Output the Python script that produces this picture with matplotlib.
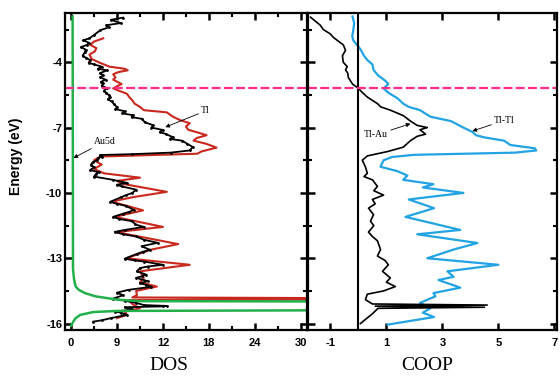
import matplotlib
matplotlib.use("Agg")
import matplotlib.pyplot as plt
from matplotlib.ticker import MultipleLocator, FixedLocator

plt.rcParams["axes.unicode_minus"] = False

############### DOS data (left panel) ################
# total DOS (black)
e_tot = [-1.95, -2.05, -2.2, -2.3, -2.4, -2.53, -2.75, -2.9, -2.99, -3.1, -3.2, -3.3, -3.42, -3.54,
         -3.7, -3.8, -3.91, -4.02, -4.1, -4.2, -4.3, -4.37, -4.5, -4.6, -4.69, -4.8, -4.9, -4.96,
         -5.08, -5.19, -5.3, -5.4, -5.5, -5.6, -5.7, -5.8, -5.92, -6.06, -6.15, -6.25, -6.35, -6.43,
         -6.52, -6.6, -6.75, -6.89, -7.0, -7.11, -7.2, -7.3, -7.44, -7.52, -7.6, -7.75, -7.89, -8.05,
         -8.15, -8.22, -8.26, -8.33, -8.4, -8.49, -8.6, -8.7, -8.82, -8.95, -9.05, -9.15, -9.25, -9.4,
         -9.54, -9.62, -9.7, -9.85, -10.0, -10.1, -10.2, -10.41, -10.5, -10.6, -10.78, -10.88, -10.95,
         -11.1, -11.2, -11.3, -11.45, -11.56, -11.7, -11.79, -11.9, -12.0, -12.15, -12.29, -12.45,
         -12.61, -12.7, -12.8, -13.02, -13.1, -13.15, -13.3, -13.38, -13.45, -13.6, -13.75, -13.83,
         -13.9, -14.05, -14.15, -14.22, -14.31, -14.45, -14.58, -14.7, -14.85, -14.95, -15.05,
         -15.15, -15.19, -15.21, -15.25, -15.35, -15.45, -15.5, -15.6, -15.75, -15.85, -15.91]
dos_tot = [6.8, 5.2, 6.5, 4.6, 4.9, 3.8, 3.0, 2.4, 1.6, 2.3, 2.1, 1.3, 1.9, 1.8,
           1.5, 2.0, 2.5, 2.3, 3.0, 4.0, 3.5, 4.7, 3.8, 4.2, 3.8, 4.5, 3.9, 4.2,
           4.0, 4.7, 4.3, 4.6, 4.9, 5.1, 4.8, 5.3, 5.6, 6.0, 5.8, 7.0, 6.7, 8.1,
           7.9, 9.3, 9.6, 10.7, 10.5, 12.0, 11.6, 12.4, 13.3, 12.9, 14.5, 15.2, 15.9, 15.5,
           13.0, 8.0, 3.8, 4.1, 3.5, 3.4, 2.8, 2.6, 3.0, 2.5, 3.6, 3.2, 3.0, 5.5,
           7.3, 6.0, 6.6, 8.5, 8.0, 7.2, 6.5, 5.1, 6.0, 7.2, 8.2, 7.5, 6.8,
           5.5, 6.3, 8.0, 8.4, 9.5, 7.0, 5.7, 6.8, 8.5, 9.5, 11.3, 9.2,
           10.3, 9.4, 8.6, 7.0, 8.3, 9.5, 12.0, 10.0, 9.0, 8.6, 9.8, 9.2,
           8.5, 10.0, 9.0, 9.8, 10.5, 7.5, 6.0, 6.8, 5.5, 7.0, 8.5,
           9.5, 12.5, 12.0, 7.0, 8.0, 5.8, 6.5, 7.3, 5.2, 4.0, 2.9]

# Tl partial DOS (red)
e_tl = [-2.9, -3.05, -3.2, -3.35, -3.5, -3.65, -3.85, -4.0, -4.2, -4.3, -4.37, -4.45, -4.55, -4.7,
        -4.8, -5.0, -5.1, -5.2, -5.3, -5.45, -5.6, -5.75, -5.9, -6.05, -6.2, -6.3, -6.4, -6.5,
        -6.65, -6.8, -6.95, -7.1, -7.22, -7.35, -7.48, -7.6, -7.75, -7.92, -8.1, -8.2, -8.33,
        -8.5, -8.7, -8.9, -9.1, -9.3, -9.45, -9.6, -9.95, -10.2, -10.4, -10.8, -11.1, -11.56,
        -11.8, -12.35, -12.6, -13.0, -13.3, -13.6, -13.9, -14.1, -14.3, -14.5, -14.7, -14.8,
        -14.86, -14.92, -15.1, -15.3, -15.45, -15.6, -15.75]
dos_tl = [4.2, 3.0, 2.5, 3.3, 3.1, 2.4, 2.7, 3.6, 5.0, 7.0, 7.4, 6.2, 5.5, 5.8,
          5.5, 6.6, 6.0, 5.5, 6.2, 7.3, 7.6, 8.0, 8.3, 9.0, 9.5, 12.5, 12.9, 13.3,
          14.2, 15.5, 15.0, 15.3, 16.5, 17.7, 16.4, 16.0, 17.7, 19.0, 17.0, 16.5, 3.8,
          3.0, 4.0, 3.0, 4.3, 9.0, 6.0, 7.0, 12.5, 8.0, 5.3, 9.4, 5.7, 12.0,
          5.9, 14.0, 10.5, 7.2, 15.5, 9.0, 9.5, 9.0, 11.2, 8.5, 8.6, 8.0,
          60.0, 7.5, 8.0, 9.0, 7.0, 7.3, 6.0]

# Au5d partial DOS (green)
e_au = [-1.9, -13.5, -14.0, -14.3, -14.45, -14.6, -14.75, -14.9, -14.97, -15.0, -15.36, -15.42,
        -15.47, -15.6, -15.75, -15.9, -16.1]
dos_au = [0.2, 0.25, 0.4, 0.6, 1.0, 1.8, 3.2, 6.0, 9.0, 60.0, 60.0, 6.0, 2.9, 1.2, 0.6, 0.3, 0.0]

############### COOP data (right panel) ################
e_tltl = [-1.9, -2.2, -2.5, -2.8, -3.0, -3.2, -3.4, -3.7, -3.9, -4.1, -4.35, -4.6, -4.85, -5.0,
          -5.2, -5.4, -5.65, -5.9, -6.05, -6.2, -6.5, -6.7, -7.0, -7.2, -7.35, -7.45, -7.6, -7.8,
          -7.95, -8.05, -8.15, -8.25, -8.35, -8.5, -8.8, -9.0, -9.2, -9.4, -9.6, -9.75, -10.0,
          -10.3, -10.7, -11.1, -11.7, -11.9, -12.3, -12.6, -13.0, -13.3, -13.6, -13.85, -14.0,
          -14.35, -14.6, -14.75, -15.05, -15.3, -15.5, -15.7, -15.9, -16.05]
coop_tltl = [-0.21, -0.15, -0.18, -0.22, -0.18, -0.05, 0.07, 0.2, 0.32, 0.5, 0.54, 0.7, 0.96, 1.07,
             0.9, 1.07, 1.39, 1.6, 1.8, 2.2, 2.57, 3.3, 3.75, 4.07, 4.2, 4.5, 5.2, 5.43,
             6.3, 6.35, 5.6, 2.0, 1.2, 0.9, 0.79, 1.39, 1.75, 1.6, 2.68, 2.3, 3.75,
             1.8, 2.7, 1.68, 3.64, 2.1, 4.25, 3.4, 2.46, 5.0, 3.18, 3.4, 2.86,
             3.64, 2.68, 2.75, 2.2, 2.57, 2.3, 2.7, 1.75, 1.04]

e_tlau = [-1.93, -2.1, -2.3, -2.5, -2.7, -2.85, -3.0, -3.2, -3.45, -3.7, -4.0, -4.2, -4.35, -4.5,
          -4.7, -5.0, -5.2, -5.4, -5.6, -5.9, -6.05, -6.2, -6.45, -6.7, -6.9, -7.0, -7.1, -7.3,
          -7.4, -7.6, -7.9, -8.1, -8.3, -8.5, -8.8, -9.1, -9.25, -9.4, -9.7, -9.9, -10.1, -10.3,
          -10.5, -10.7, -11.0, -11.3, -11.5, -11.8, -12.0, -12.2, -12.6, -12.9, -13.1, -13.3,
          -13.6, -13.9, -14.1, -14.3, -14.5, -14.65, -14.9, -15.1, -15.15, -15.2, -15.25, -15.3,
          -15.55, -16.0]
coop_tlau = [-1.71, -1.55, -1.36, -1.25, -1.0, -0.9, -0.75, -0.54, -0.46, -0.57, -0.54, -0.4, -0.46, -0.38,
             -0.36, -0.21, 0.0, 0.15, 0.32, 0.68, 0.8, 1.14, 1.6, 1.86, 2.1, 2.46, 2.2, 2.4,
             2.1, 1.86, 1.6, 1.04, 0.32, 0.14, 0.25, 0.32, 0.2, 0.5, 0.68, 0.55, 0.9, 0.5,
             0.6, 0.36, 0.54, 0.43, 0.55, 0.36, 0.5, 0.68, 0.79, 0.68, 0.95, 1.07,
             0.86, 1.14, 1.0, 1.32, 0.9, 0.32, 0.25, 0.5, 4.6, 0.6, 4.5, 0.7,
             0.5, 0.07]

e_fermi = -5.2

dos_ticks = [0, 6, 12, 18, 24, 30]
dos_ticklabels = ["0", "9", "12", "18", "24", "30"]
coop_ticks = [-1, 1, 3, 5, 7]
e_ticks = [-4, -7, -10, -13, -16]

############### Plot ################
RED = "#c8281e"
GREEN = "#22b04a"
BLUE = "#22a3e3"
PINK = "#ff2a8a"

fig = plt.figure(figsize=(5.6, 3.79), dpi=100)
ax1 = fig.add_axes([0.116, 0.129, 0.432, 0.836])
ax2 = fig.add_axes([0.550, 0.129, 0.445, 0.836])

ax1.plot(dos_tl, e_tl, color=RED, lw=1.5)
ax1.plot(dos_tot, e_tot, color="black", lw=1.3, marker=".", ms=2)
ax1.plot(dos_au, e_au, color=GREEN, lw=1.8)
ax1.axhline(e_fermi, color=PINK, lw=1.6, ls=(0, (4, 1.5)))

ax1.set_xlim(-0.8, 30.8)
ax1.set_ylim(-16.3, -1.75)
ax1.xaxis.set_major_locator(FixedLocator(dos_ticks))
ax1.set_xticklabels(dos_ticklabels)
ax1.xaxis.set_minor_locator(MultipleLocator(3))
ax1.yaxis.set_major_locator(FixedLocator(e_ticks))
ax1.yaxis.set_minor_locator(FixedLocator([-2.5, -5.5, -8.5, -11.5, -14.5]))
ax1.set_xlabel("DOS", family="Liberation Serif", fontsize=14, labelpad=3)
ax1.xaxis.set_label_coords(0.43, -0.085)
ax1.set_ylabel("Energy (eV)", family="Liberation Sans", fontweight="bold", fontsize=10)
ax1.yaxis.set_label_coords(-0.175, 0.55)

ax1.annotate("Tl", xy=(12.3, -6.98), xytext=(17.0, -6.35), family="Liberation Serif",
             fontsize=7, arrowprops=dict(arrowstyle="-|>", lw=0.6, color="black",
                                         mutation_scale=6, shrinkA=0, shrinkB=0))
ax1.annotate("Au5d", xy=(0.3, -8.4), xytext=(3.0, -7.75), family="Liberation Serif",
             fontsize=7, arrowprops=dict(arrowstyle="-|>", lw=0.6, color="black",
                                         mutation_scale=6, shrinkA=0, shrinkB=0))

ax2.plot(coop_tltl, e_tltl, color=BLUE, lw=1.6)
ax2.plot(coop_tlau, e_tlau, color="black", lw=1.2)
ax2.axvline(0, color="black", lw=1.5)
ax2.axhline(e_fermi, color=PINK, lw=1.6, ls=(0, (4, 1.5)))
ax2.set_xlim(-1.8, 7.1)
ax2.set_ylim(-16.3, -1.75)
ax2.xaxis.set_major_locator(FixedLocator(coop_ticks))
ax2.yaxis.set_major_locator(FixedLocator(e_ticks))
ax2.yaxis.set_minor_locator(FixedLocator([-2.5, -5.5, -8.5, -11.5, -14.5]))
ax2.set_yticklabels([])
ax2.set_xlabel("COOP", family="Liberation Serif", fontsize=14)
ax2.xaxis.set_label_coords(0.48, -0.085)

ax2.annotate("Tl-Au", xy=(1.86, -6.82), xytext=(0.2, -7.45), family="Liberation Serif",
             fontsize=7, arrowprops=dict(arrowstyle="-|>", lw=0.6, color="black",
                                         mutation_scale=6, shrinkA=0, shrinkB=0))
ax2.annotate("Tl-Tl", xy=(4.07, -7.16), xytext=(4.85, -6.78), family="Liberation Serif",
             fontsize=7, arrowprops=dict(arrowstyle="-|>", lw=0.6, color="black",
                                         mutation_scale=6, shrinkA=0, shrinkB=0))

for ax in (ax1, ax2):
    for s in ax.spines.values():
        s.set_linewidth(1.6)
    ax.tick_params(which="both", direction="in", top=True, right=True)
    ax.tick_params(which="major", length=5, width=1.8, labelsize=8, pad=6)
    ax.tick_params(which="minor", length=3, width=1.5)
    ax.tick_params(axis="y", pad=2)
    for lab in ax.get_xticklabels() + ax.get_yticklabels():
        lab.set_fontweight("bold")
        lab.set_family("Liberation Sans")

fig.savefig("out.png", dpi=100)
